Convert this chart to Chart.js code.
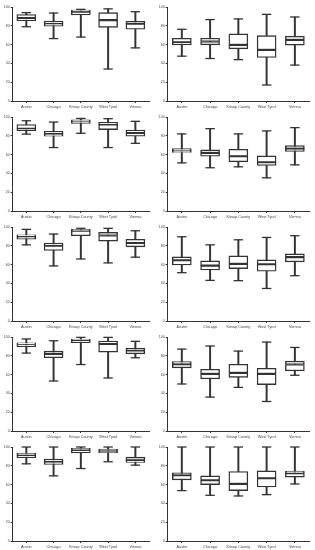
<!DOCTYPE html>
<html>
<head>
<meta charset="utf-8">
<script src="https://cdn.jsdelivr.net/npm/chart.js@4"></script>
<style>
  body { margin: 0; background: #fff; }
  #wrap { position: relative; width: 315px; height: 550px; }
  .cell { position: absolute; }
</style>
</head>
<body>
<div id="wrap"></div>
<script>
const cities = ['Austin', 'Chicago', 'Kitsap County', 'West Tyrol', 'Vienna'];
const yTicks = [0, 20, 40, 60, 80, 100];

// one row per panel: row1 left, row1 right, row2 left, ...
const mins = [
  [79, 66.4, 68, 34, 56.5], [47.7, 45.2, 44, 17, 38.2],
  [81.8, 67.5, 82.7, 67.5, 72], [51.2, 46, 47, 35.3, 49.1],
  [81, 58.6, 66, 61.8, 67.9], [51.4, 43.2, 42.9, 34.6, 48.2],
  [82.9, 53.2, 70.7, 56.4, 77.9], [50, 36.1, 46.4, 31.4, 59.3],
  [82.1, 69.3, 77.1, 84.3, 80.7], [53.6, 48.6, 47.9, 49.3, 60.7]
];
const q1s = [
  [85.5, 79.5, 91.5, 78.4, 76.3], [59.7, 59.7, 55.5, 46.3, 59.4],
  [85.4, 79.5, 93.3, 86.6, 79.5], [62.2, 58.3, 52.3, 48.4, 63.3],
  [87, 75, 90.7, 85, 78.9], [59.6, 54.3, 55.7, 52.9, 62.9],
  [89.6, 77.9, 93.9, 83.9, 82], [67.1, 55.4, 57.1, 49.3, 63.9],
  [88.6, 81.4, 93.6, 93.6, 83.6], [65, 60, 53.6, 57.5, 67.9]
];
const medians = [
  [88.3, 82.3, 95, 86, 82.3], [62.5, 63.3, 59.7, 54.4, 65],
  [87.5, 82, 95.8, 92.2, 83], [63.6, 61.8, 58.3, 51.9, 66.4],
  [90, 80, 96, 91, 83], [64.6, 58.9, 60.7, 60.4, 67.9],
  [92, 82, 96.8, 92.5, 85.7], [71, 60.7, 61.8, 60.7, 70.7],
  [91.4, 84.3, 97, 95.7, 85.7], [70, 64.6, 60.7, 66.8, 72.1]
];
const q3s = [
  [92, 85, 96.8, 94, 84.8], [66.8, 66.8, 71.4, 69.6, 68.9],
  [92, 84.8, 97, 94.3, 86.2], [66.4, 65, 65.7, 58.7, 69.6],
  [91.8, 82.9, 97.5, 94.3, 87], [68.2, 63.9, 69.3, 65, 71.4],
  [93.9, 85, 97.9, 95.7, 88.2], [73.9, 65.7, 71, 66.8, 74.3],
  [93.6, 87.1, 98.6, 97.9, 89.3], [72.5, 69.3, 73.9, 74.6, 74.3]
];
const maxs = [
  [94, 93.6, 97.5, 98, 95], [76.3, 86.6, 87.3, 92.2, 89.4],
  [96, 94.6, 98.5, 98.2, 95.4], [82, 87.6, 82, 85.2, 88.7],
  [97.5, 92.5, 98.6, 98.6, 96], [89.6, 81, 86.4, 88.9, 90.7],
  [97.9, 96, 99.6, 99.6, 95.4], [87.1, 90.4, 85, 94.6, 88.9],
  [100, 100, 100, 100, 100], [100, 100, 100, 100, 100]
];

const ink = '#333';
const wrap = document.getElementById('wrap');

function pairs(a, b) {
  return a.map((v, i) => [v, b[i]]);
}

for (let p = 0; p < 10; p++) {
  const col = p % 2, row = Math.floor(p / 2);
  const div = document.createElement('div');
  div.className = 'cell';
  const w = col === 0 ? 155 : 160;
  div.style.left = (col === 0 ? 0 : 155) + 'px';
  div.style.top = (row * 110) + 'px';
  div.style.width = w + 'px';
  div.style.height = '110px';
  const canvas = document.createElement('canvas');
  canvas.width = w;
  canvas.height = 110;
  div.appendChild(canvas);
  wrap.appendChild(div);

  const boxStyle = {
    type: 'bar', backgroundColor: '#fff', borderColor: ink, borderWidth: 1.4,
    borderSkipped: false, barThickness: 19, grouped: false, order: 1
  };
  const capStyle = {
    type: 'line', showLine: false, pointStyle: 'line', pointRadius: 4.7,
    pointBorderColor: ink, pointBorderWidth: 1.3, clip: false, order: 0
  };

  new Chart(canvas, {
    data: {
      labels: cities,
      datasets: [
        { type: 'bar', data: pairs(mins[p], maxs[p]), backgroundColor: ink,
          barThickness: 1.3, grouped: false, order: 3 },
        Object.assign({ data: pairs(q1s[p], medians[p]) }, boxStyle),
        Object.assign({ data: pairs(medians[p], q3s[p]) }, boxStyle),
        Object.assign({ data: maxs[p] }, capStyle),
        Object.assign({ data: mins[p] }, capStyle)
      ]
    },
    options: {
      responsive: false,
      animation: false,
      layout: { padding: { top: 7, right: col === 0 ? 3 : 5, left: 0, bottom: 0 } },
      plugins: { legend: { display: false }, tooltip: { enabled: false } },
      scales: {
        x: {
          offset: true,
          grid: { offset: false, drawOnChartArea: false, drawTicks: true, tickLength: 2, color: ink },
          border: { color: ink, width: 1 },
          ticks: { color: '#444', font: { family: 'Liberation Sans', size: 3.8 }, padding: 1.5, maxRotation: 0, autoSkip: false },
          afterFit: s => { s.height = 9; }
        },
        y: {
          min: 0, max: 100,
          afterBuildTicks: s => { s.ticks = yTicks.map(v => ({ value: v })); },
          grid: { drawOnChartArea: false, drawTicks: true, tickLength: 2, color: ink },
          border: { color: ink, width: 1 },
          ticks: { color: '#444', font: { family: 'Liberation Sans', size: 3.5 }, padding: 1 },
          afterFit: s => { s.width = 12.7; }
        }
      }
    }
  });
}
</script>
</body>
</html>
